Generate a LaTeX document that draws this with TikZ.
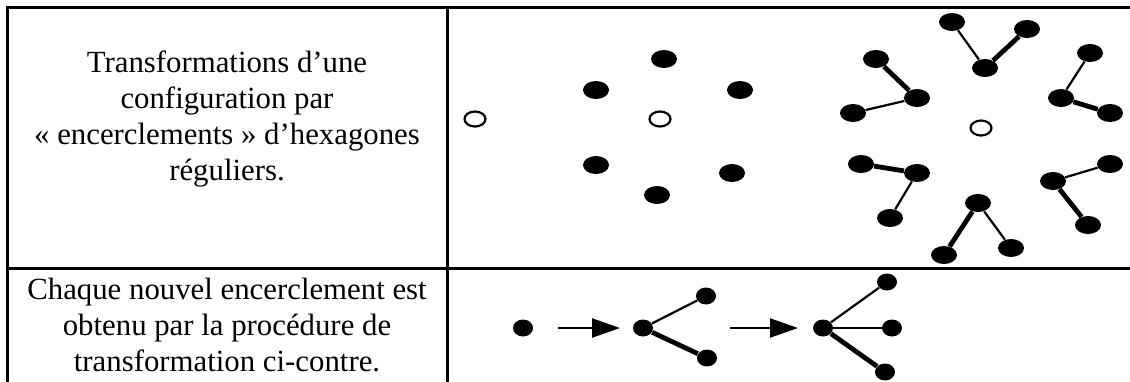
\documentclass[tikz,border=0pt]{standalone}
\usepackage{fontspec}
\setmainfont{Liberation Serif}
\usetikzlibrary{arrows.meta, shapes.geometric}

\begin{document}
\begin{tikzpicture}[
    x=0.5pt, y=-0.5pt,
    rule/.style={line width=1.5pt, line cap=rect},
    % filled and open points
    dot/.style={ellipse, fill=black, inner sep=0pt,
                minimum width=13pt, minimum height=9pt},
    sdot/.style={dot, minimum width=10pt, minimum height=8.5pt},
    hole/.style={ellipse, draw, line width=1.1pt, fill=white, inner sep=0pt,
                 minimum width=10.5pt, minimum height=7.5pt},
    thin/.style={line width=1.1pt},
    thick/.style={line width=2.4pt},
    step arrow/.style={-{Triangle[length=14pt, width=9.5pt]}, line width=1.1pt},
    cell/.style={align=center, font=\fontsize{15.4}{18}\selectfont}
]
\useasboundingbox (0,0) rectangle (1130,381);

% ---- table rules ----
\draw[rule] (7,381) -- (7,7) -- (1130,7);
\draw[rule] (447,7) -- (447,381);
\draw[rule] (7,268) -- (1130,268);

% ---- left column texts ----
\node[cell] (txtA) at (227,119)
    {Transformations d’une\\configuration par\\«~encerclements~» d’hexagones\\réguliers.};
\node[cell] (txtB) at (227,325)
    {Chaque nouvel encerclement est\\obtenu par la procédure de\\transformation ci-contre.};

% ---- first two configurations ----
\node[hole] (o1) at (475,119) {};
\node[hole] (o2) at (660,119) {};
\node[dot] (h1) at (664,59) {};
\node[dot] (h2) at (740,90) {};
\node[dot] (h3) at (732,173) {};
\node[dot] (h4) at (657,195) {};
\node[dot] (h5) at (596,165) {};
\node[dot] (h6) at (596,90) {};

% ---- third configuration ----
\node[hole] (o3) at (981,128) {};
% top
\node[dot] (tc) at (985,68) {};
\node[dot] (ta) at (952,22) {};
\node[dot] (tb) at (1027,29) {};
\draw[thin] (tc) -- (ta);
\draw[thick] (tc) -- (tb);
% upper right
\node[dot] (rc) at (1061,98) {};
\node[dot] (ra) at (1090,53) {};
\node[dot] (rb) at (1110,113) {};
\draw[thin] (rc) -- (ra);
\draw[thick] (rc) -- (rb);
% lower right
\node[dot] (sc) at (1053,181) {};
\node[dot] (sa) at (1110,164) {};
\node[dot] (sb) at (1088,225) {};
\draw[thin] (sc) -- (sa);
\draw[thick] (sc) -- (sb);
% bottom
\node[dot] (bc) at (978,203) {};
\node[dot] (ba) at (1011,248) {};
\node[dot] (bb) at (944,255) {};
\draw[thin] (bc) -- (ba);
\draw[thick] (bc) -- (bb);
% lower left
\node[dot] (lc) at (917,173) {};
\node[dot] (la) at (890,218) {};
\node[dot] (lb) at (861,164) {};
\draw[thin] (lc) -- (la);
\draw[thick] (lc) -- (lb);
% upper left
\node[dot] (uc) at (917,98) {};
\node[dot] (ua) at (853,113) {};
\node[dot] (ub) at (876,59) {};
\draw[thin] (uc) -- (ua);
\draw[thick] (uc) -- (ub);

% ---- transformation procedure ----
\node[sdot] (p0) at (523,328) {};
\coordinate (a1s) at (558,328);
\coordinate (a1e) at (620,328);
\draw[step arrow] (a1s) -- (a1e);

\node[sdot] (p1) at (643,328) {};
\node[sdot] (p1a) at (706,296) {};
\node[sdot] (p1b) at (707,358) {};
\draw[thin] (p1) -- (p1a);
\draw[thick] (p1) -- (p1b);

\coordinate (a2s) at (730,328);
\coordinate (a2e) at (798,328);
\draw[step arrow] (a2s) -- (a2e);

\node[sdot] (p2) at (823,328) {};
\node[sdot] (p2a) at (887,282) {};
\node[sdot] (p2b) at (892,328) {};
\node[sdot] (p2c) at (885,372) {};
\draw[thin] (p2) -- (p2a);
\draw[thin] (p2) -- (p2b);
\draw[thick] (p2) -- (p2c);
\end{tikzpicture}
\end{document}
